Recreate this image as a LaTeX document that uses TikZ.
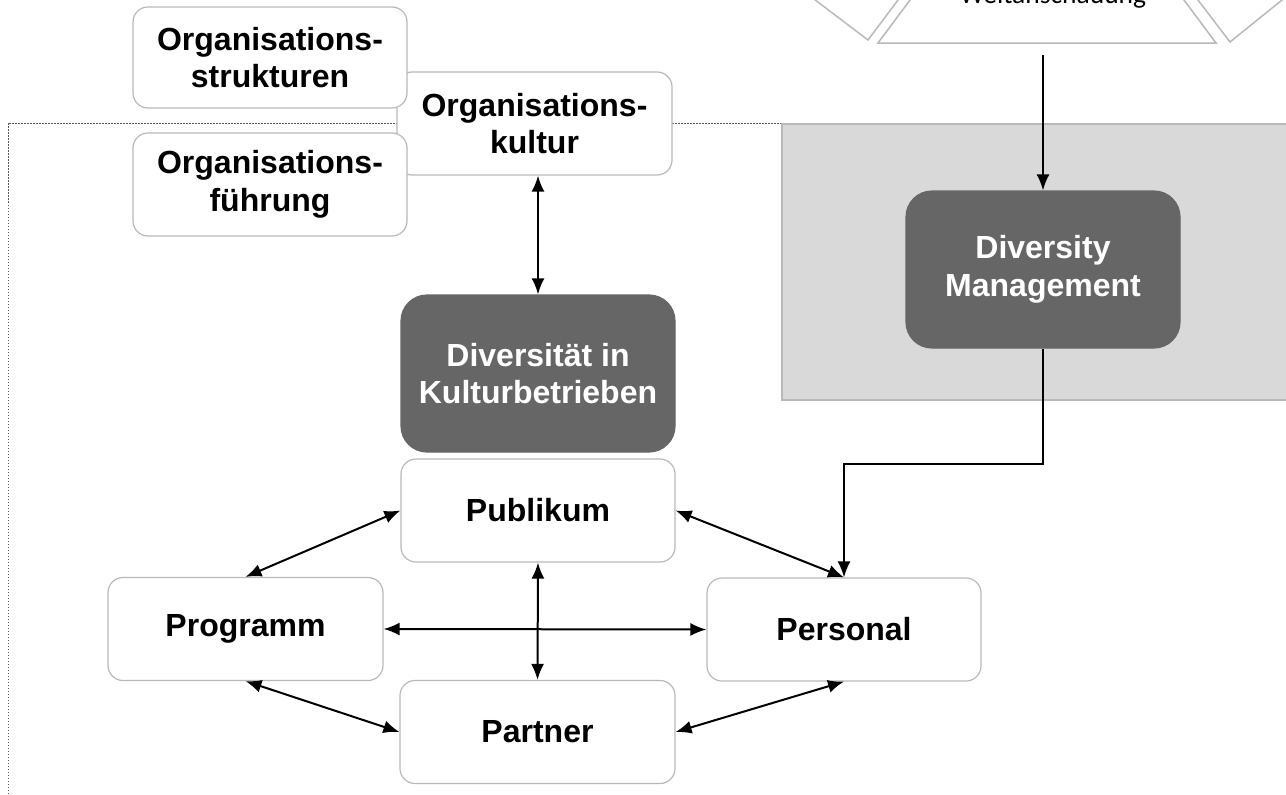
\documentclass[tikz,border=0pt]{standalone}
\usepackage{fontspec}
\setmainfont{Liberation Sans}
\newfontfamily\weltfont{Carlito}
\usetikzlibrary{arrows.meta}

\definecolor{boxline}{RGB}{185,185,185}
\definecolor{darkfill}{RGB}{102,102,102}
\definecolor{panelfill}{RGB}{217,217,217}

\tikzset{
  lightbox/.style={draw=boxline, line width=1.2pt, fill=white, rounded corners=15pt,
    minimum width=274pt, minimum height=103pt, inner sep=0pt, align=center,
    font=\fontsize{32}{37.5}\selectfont\bfseries},
  darkbox/.style={lightbox, draw=darkfill, fill=darkfill, text=white,
    rounded corners=26pt, minimum height=157pt},
  flow/.style={-{Latex[length=16pt,width=13pt]}, line width=2pt},
  link/.style={{Latex[length=16pt,width=13pt]}-{Latex[length=16pt,width=13pt]}, line width=2pt},
}

\begin{document}
\begin{tikzpicture}[x=1pt,y=-1pt]
        \useasboundingbox (0,0) rectangle (1286,795);

        %%% Background
        % Dotted frame and grey panel
        \draw[gray!70!black, line width=1pt, dash pattern=on 1.5pt off 1.5pt] (8,800) -- (8,123) -- (790,123);
        \draw[boxline, fill=panelfill, line width=1.5pt] (782,124) rectangle (1300,400);

        % Triangles at the top
        \draw[boxline, line width=1.5pt] (802,-10) -- (868,40) -- (905.5,-10);
        \draw[boxline, line width=1.5pt] (1190.4,-10) -- (1230,42) -- (1294.4,-10);
        \draw[boxline, line width=1.5pt, fill=white] (878,43) -- (1216,43) -- (1047,-184) -- cycle;
        \node[font=\weltfont\fontsize{27.5}{30}\selectfont, anchor=base] (welt) at (1053,3.5) {Weltanschauung};
        \coordinate (weltOut) at (1043,55);

        %%% Boxes
        % Organisation
        \node[lightbox, minimum width=275pt] (orgKultur) at (534.5,123.5) {Organisations-\\kultur};
        \node[lightbox, minimum height=101pt] (orgStruktur) at (270,57.5) {Organisations-\\strukturen};
        \node[lightbox] (orgFuehrung) at (270,184.5) {Organisations-\\führung};

        % Centre and management
        \node[darkbox] (divKult) at (538,373.5) {Diversität in\\Kulturbetrieben};
        \node[darkbox] (divMan) at (1043,269.5) {Diversity\\Management};

        % Fields
        \node[lightbox] (publikum) at (538,510.5) {Publikum};
        \node[lightbox, minimum width=275pt] (programm) at (245.5,629) {Programm};
        \node[lightbox] (personal) at (844,629.5) {Personal};
        \node[lightbox, minimum width=275pt] (partner) at (537.5,732) {Partner};

        %%% Arcs
        \draw[link] (orgKultur.south -| divKult.north) -- (divKult.north);
        \draw[flow] (weltOut) -- (divMan.north);
        \draw[flow] (divMan.south) -- ++(0,115) -| (personal.north);

        \draw[link] (publikum.west) -- (programm.north);
        \draw[link] (publikum.east) -- (personal.north);
        \draw[link] (publikum.south) -- (partner.north);
        \draw[link] (programm.east) -- (personal.west);
        \draw[link] (programm.south) -- (partner.west);
        \draw[link] (partner.east) -- (personal.south);
\end{tikzpicture}
\end{document}
